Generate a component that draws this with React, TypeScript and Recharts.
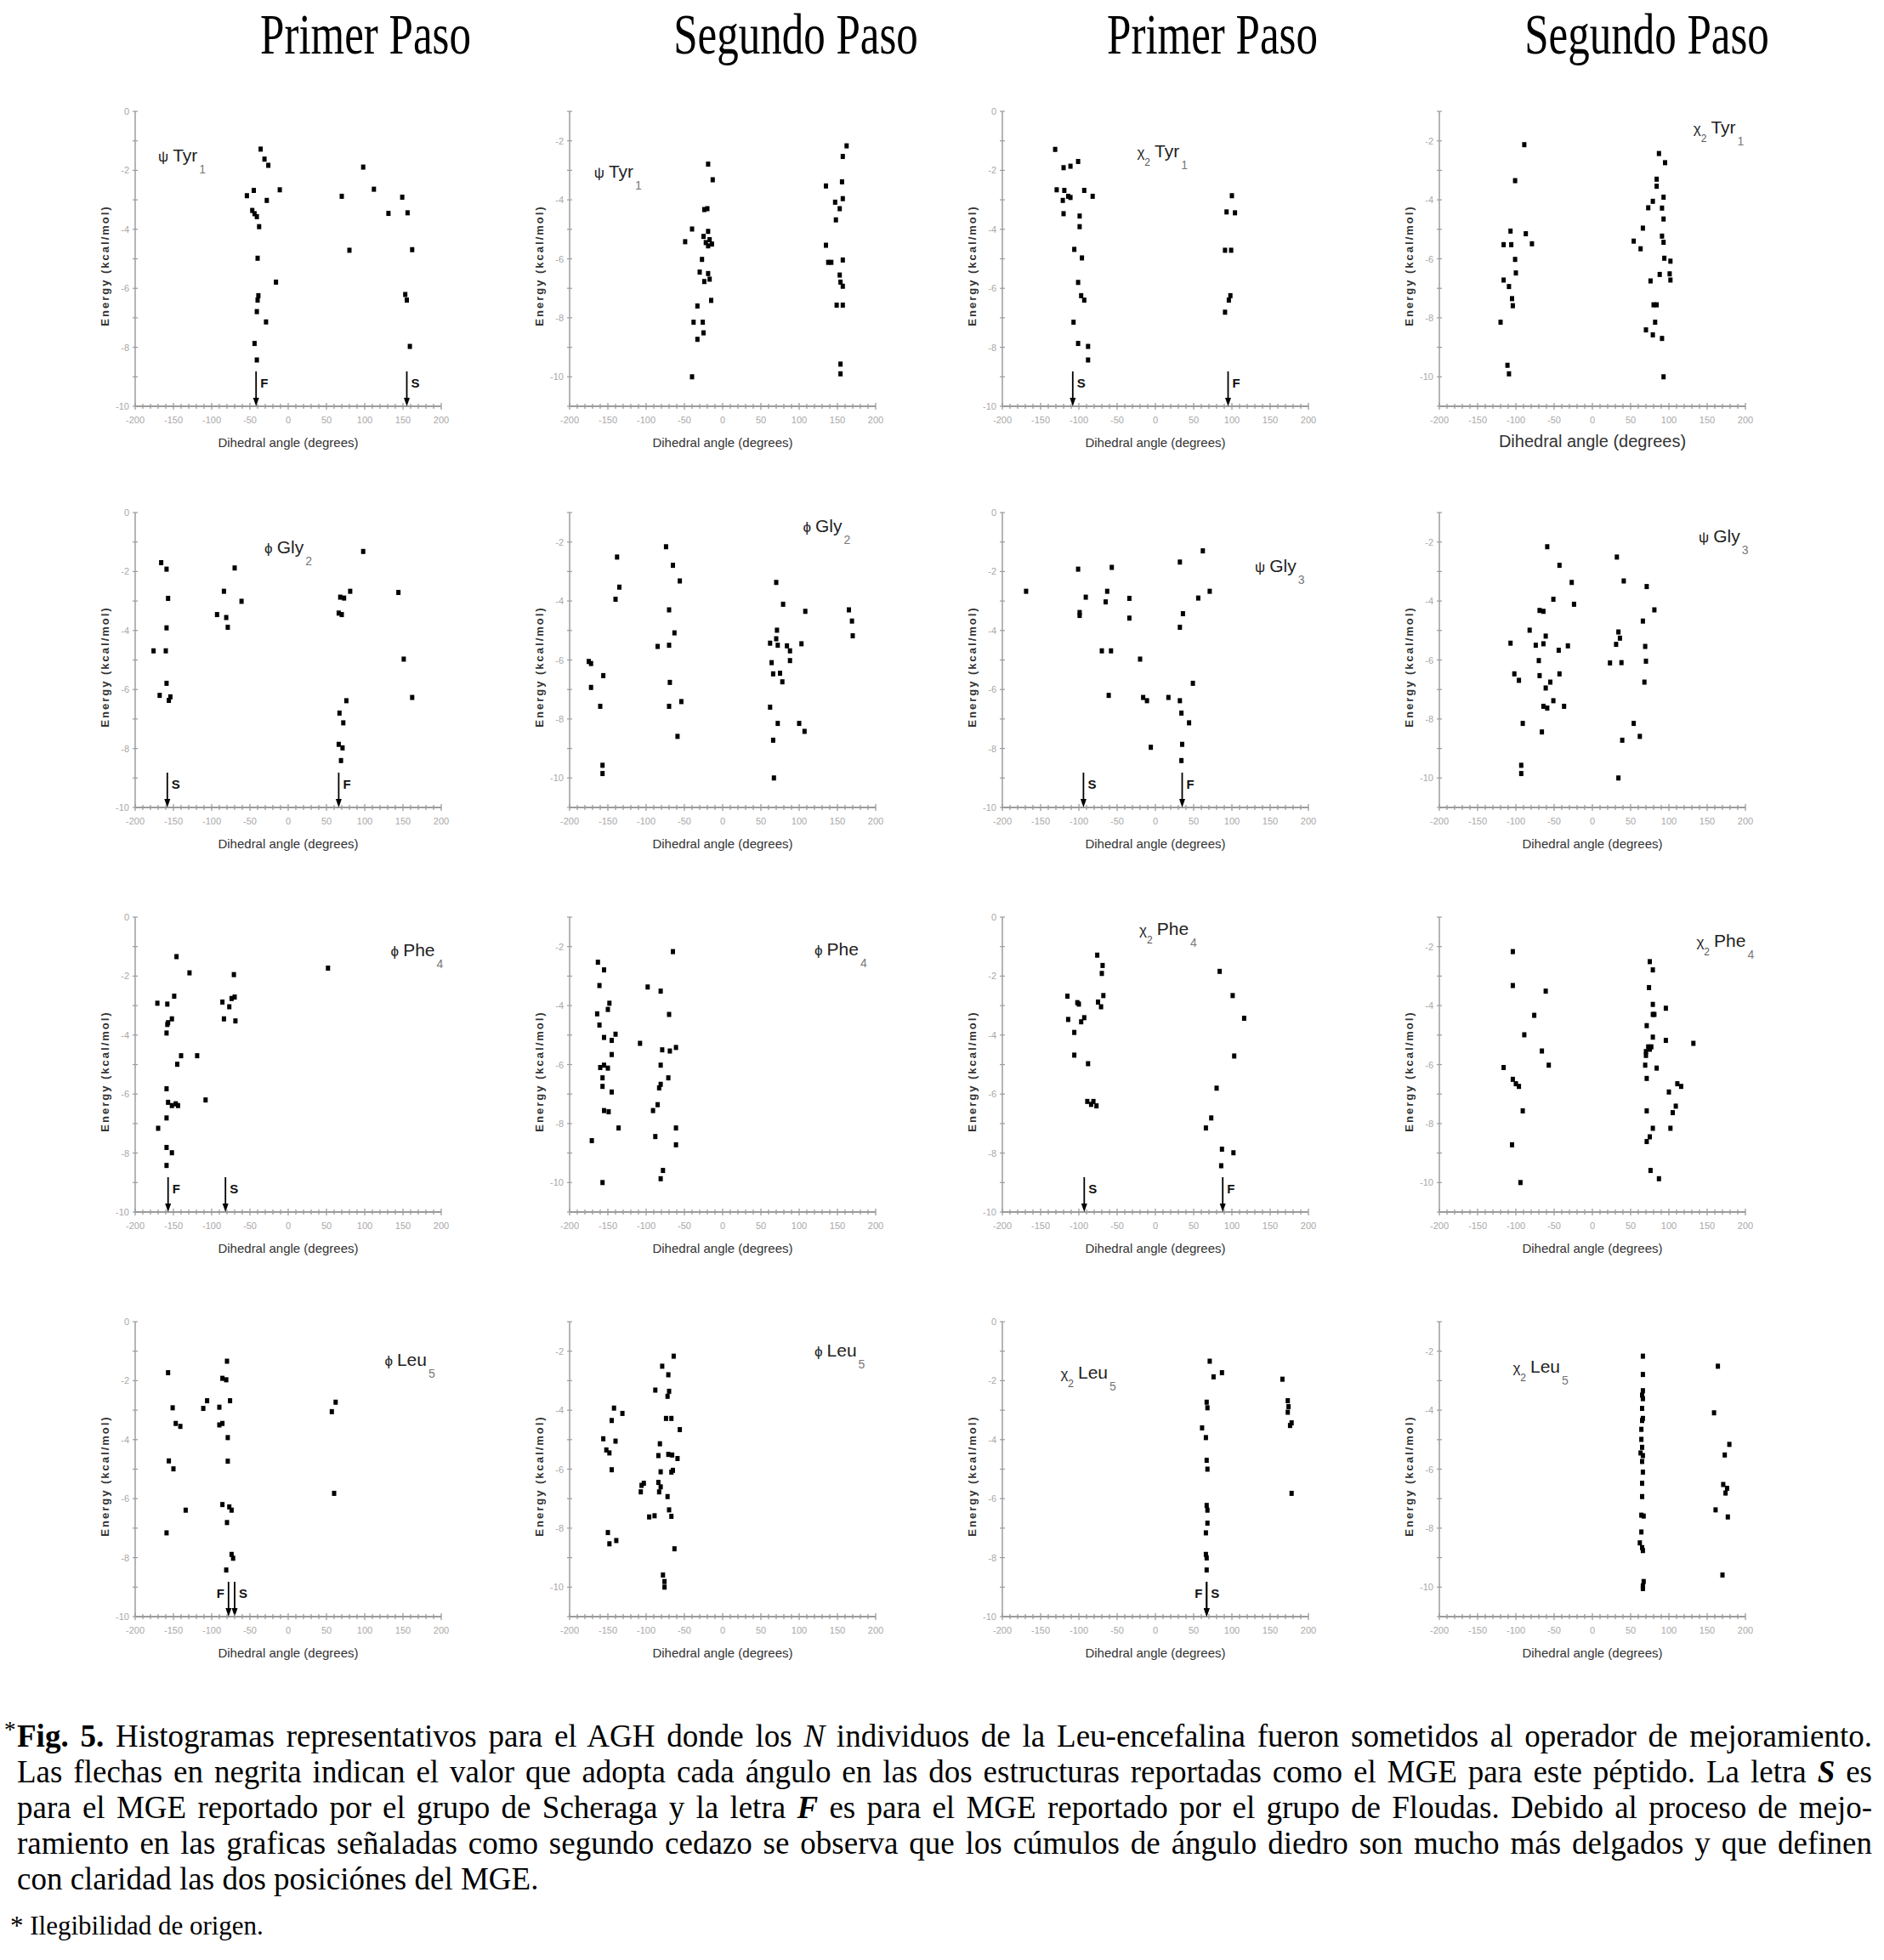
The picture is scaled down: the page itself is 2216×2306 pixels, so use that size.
import React from "react";
import { ScatterChart, Scatter, XAxis, YAxis, ReferenceDot, Label } from "recharts";

type Pt = [number, number];

// axis ticks
const xMajorTicks = [-200, -150, -100, -50, 0, 50, 100, 150, 200];
const xMinorStep = 10;
const yFirstTicks = [0, -1, -2, -3, -4, -5, -6, -7, -8, -9, -10];
const ySecondTicks = [-1, -2, -3, -4, -5, -6, -7, -8, -9, -10, -11];
const yLabelled = [0, -2, -4, -6, -8, -10];

const columnTitles = ["Primer Paso", "Segundo Paso", "Primer Paso", "Segundo Paso"];

// row 1: psi Tyr1 / chi2 Tyr1
const psiTyr1First: Pt[] = [
  [-36, -1.28], [-31, -1.62], [-26, -1.83], [-54, -2.86], [-45, -2.68], [-28, -3.02], [-11, -2.66],
  [-47, -3.36], [-44, -3.47], [-41, -3.57], [-38, -3.91], [-40, -4.98], [-16, -5.79], [-39, -6.25],
  [-40, -6.4], [-41, -6.79], [-29, -7.14], [-44, -7.87], [-41, -8.43], [98, -1.89], [70, -2.88],
  [112, -2.64], [149, -2.91], [131, -3.46], [156, -3.44], [80, -4.71], [162, -4.69], [153, -6.21],
  [155, -6.4], [159, -7.97],
];
const psiTyr1Second: Pt[] = [
  [-19, -2.79], [-13, -3.32], [-24, -4.33], [-20, -4.3], [-40, -4.99], [-49, -5.42], [-19, -5.07],
  [-25, -5.24], [-17, -5.35], [-22, -5.45], [-19, -5.56], [-14, -5.5], [-27, -6.02], [-30, -6.45],
  [-19, -6.5], [-24, -6.77], [-17, -6.69], [-15, -7.41], [-33, -7.6], [-38, -8.15], [-26, -8.15],
  [-25, -8.51], [-33, -8.73], [-40, -10.0], [162, -2.17], [157, -2.53], [135, -3.53], [156, -3.39],
  [157, -3.96], [147, -4.08], [153, -4.3], [148, -4.68], [135, -5.54], [138, -6.12], [142, -6.12],
  [157, -6.04], [153, -6.55], [154, -6.79], [157, -6.93], [149, -7.57], [157, -7.57], [154, -9.57],
  [154, -9.9],
];
const chi2Tyr1First: Pt[] = [
  [-131, -1.29], [-120, -1.91], [-111, -1.86], [-101, -1.7], [-129, -2.66], [-119, -2.68], [-114, -2.88],
  [-111, -2.92], [-121, -3.02], [-93, -2.68], [-82, -2.88], [-120, -3.47], [-99, -3.55], [-99, -3.91],
  [-106, -4.68], [-96, -4.97], [-101, -5.8], [-97, -6.25], [-93, -6.4], [-107, -7.15], [-101, -7.87],
  [-88, -7.97], [-88, -8.43], [100, -2.86], [93, -3.41], [104, -3.44], [91, -4.71], [99, -4.71],
  [98, -6.25], [96, -6.4], [91, -6.81],
];
const chi2Tyr1Second: Pt[] = [
  [-89, -2.13], [-101, -3.35], [-107, -5.06], [-87, -5.15], [-79, -5.49], [-116, -5.52], [-106, -5.52],
  [-101, -6.02], [-100, -6.48], [-116, -6.72], [-109, -6.94], [-105, -7.35], [-104, -7.59], [-120, -8.15],
  [-111, -9.61], [-109, -9.9], [87, -2.43], [95, -2.74], [84, -3.3], [84, -3.54], [93, -3.91], [79, -4.05],
  [73, -4.27], [91, -4.28], [93, -4.65], [66, -4.96], [91, -5.23], [93, -5.44], [54, -5.4], [63, -5.66],
  [94, -5.98], [102, -6.08], [88, -6.53], [101, -6.51], [102, -6.72], [76, -6.75], [80, -7.56], [84, -7.56],
  [82, -8.15], [70, -8.41], [79, -8.58], [91, -8.7], [93, -10.0],
];

// row 2: phi Gly2 / psi Gly3
const phiGly2First: Pt[] = [
  [-166, -1.7], [-159, -1.92], [-157, -2.91], [-159, -3.91], [-176, -4.69], [-160, -4.69], [-159, -5.79],
  [-168, -6.2], [-156, -6.37], [-154, -6.25], [-70, -1.88], [-84, -2.67], [-61, -3.01], [-93, -3.46],
  [-81, -3.56], [-79, -3.89], [98, -1.32], [68, -2.87], [73, -2.9], [81, -2.67], [66, -3.41], [70, -3.46],
  [144, -2.71], [151, -4.97], [162, -6.27], [76, -6.38], [67, -6.8], [72, -7.13], [66, -7.86], [71, -7.98],
  [69, -8.41],
];
const phiGly2Second: Pt[] = [
  [-138, -2.51], [-135, -3.53], [-140, -3.94], [-175, -6.05], [-172, -6.12], [-172, -6.93], [-156, -6.53],
  [-160, -7.57], [-157, -9.57], [-157, -9.85], [-74, -2.16], [-65, -2.79], [-56, -3.32], [-70, -4.3],
  [-63, -5.08], [-85, -5.54], [-70, -5.5], [-69, -6.76], [-54, -7.41], [-70, -7.57], [-59, -8.59],
  [70, -3.37], [79, -4.11], [108, -4.35], [71, -4.99], [70, -5.28], [62, -5.43], [72, -5.5], [84, -5.52],
  [88, -5.69], [103, -5.45], [88, -6.02], [64, -6.09], [66, -6.47], [75, -6.45], [78, -6.74], [62, -7.6],
  [72, -8.15], [100, -8.15], [107, -8.42], [66, -8.72], [67, -10.0], [165, -4.3], [169, -4.68], [170, -5.18],
];
const psiGly3First: Pt[] = [
  [-169, -2.67], [-101, -1.92], [-99, -3.39], [-99, -3.49], [-91, -2.87], [-57, -1.86], [-63, -2.67],
  [-65, -3.03], [-34, -2.91], [-34, -3.58], [-70, -4.69], [-58, -4.69], [-20, -4.97], [-61, -6.2],
  [-16, -6.27], [-11, -6.38], [-6, -7.96], [17, -6.27], [32, -1.68], [62, -1.3], [56, -2.9], [71, -2.67],
  [36, -3.43], [32, -3.89], [49, -5.79], [32, -6.38], [34, -6.8], [44, -7.13], [35, -7.86], [34, -8.41],
];
const psiGly3Second: Pt[] = [
  [-59, -2.16], [-43, -2.79], [-27, -3.37], [-51, -3.94], [-24, -4.11], [-69, -4.32], [-64, -4.35],
  [-82, -4.99], [-61, -5.19], [-107, -5.43], [-74, -5.5], [-64, -5.45], [-32, -5.52], [-44, -5.67],
  [-70, -6.02], [-102, -6.47], [-96, -6.69], [-69, -6.53], [-43, -6.47], [-55, -6.75], [-61, -6.95],
  [-64, -7.57], [-59, -7.63], [-51, -7.38], [-37, -7.57], [-91, -8.15], [-66, -8.44], [-93, -9.57],
  [-93, -9.85], [32, -2.51], [41, -3.32], [71, -3.51], [81, -4.3], [66, -4.68], [34, -5.05], [36, -5.26],
  [31, -5.47], [69, -5.54], [23, -6.1], [38, -6.09], [70, -6.04], [68, -6.75], [54, -8.15], [39, -8.72],
  [62, -8.59], [34, -10.0],
];

// row 3: phi Phe4 / chi2 Phe4
const phiPhe4First: Pt[] = [
  [-146, -1.34], [-129, -1.89], [-171, -2.92], [-158, -2.95], [-149, -2.68], [-152, -3.45], [-157, -3.58],
  [-158, -3.64], [-159, -3.93], [-140, -4.7], [-119, -4.7], [-145, -4.99], [-159, -5.82], [-157, -6.28],
  [-152, -6.39], [-147, -6.33], [-144, -6.39], [-108, -6.2], [-159, -6.81], [-170, -7.16], [-159, -7.81],
  [-152, -7.99], [-159, -8.42], [-71, -1.95], [-86, -2.88], [-77, -3.04], [-74, -2.76], [-70, -2.71],
  [-84, -3.45], [-69, -3.52], [52, -1.73],
];
const phiPhe4Second: Pt[] = [
  [-163, -2.53], [-155, -2.79], [-161, -3.32], [-148, -3.92], [-150, -4.13], [-164, -4.28], [-161, -4.66],
  [-140, -4.97], [-155, -5.08], [-145, -5.18], [-145, -5.66], [-160, -6.1], [-155, -6.02], [-150, -6.12],
  [-157, -6.45], [-157, -6.74], [-145, -6.93], [-155, -7.56], [-149, -7.6], [-136, -8.15], [-171, -8.58],
  [-157, -10.0], [-98, -3.37], [-108, -5.28], [-81, -3.51], [-70, -4.3], [-79, -5.5], [-69, -5.54],
  [-61, -5.42], [-81, -6.02], [-71, -6.45], [-81, -6.67], [-83, -6.79], [-85, -7.36], [-91, -7.56],
  [-88, -8.44], [-61, -8.15], [-61, -8.72], [-78, -9.59], [-81, -9.87], [-65, -2.17],
];
const chi2Phe4First: Pt[] = [
  [-76, -1.29], [-69, -1.64], [-70, -1.91], [-115, -2.68], [-102, -2.9], [-100, -2.95], [-114, -3.47],
  [-97, -3.55], [-93, -3.41], [-106, -3.91], [-106, -4.68], [-88, -4.97], [-68, -2.66], [-75, -2.88],
  [-71, -3.04], [-89, -6.25], [-81, -6.25], [-77, -6.4], [-84, -6.35], [84, -1.84], [101, -2.66],
  [116, -3.43], [103, -4.71], [80, -5.8], [73, -6.81], [66, -7.15], [87, -7.87], [102, -7.99], [86, -8.43],
];
const chi2Phe4Second: Pt[] = [
  [-104, -2.17], [-104, -3.32], [-61, -3.51], [-76, -4.33], [-89, -4.99], [-66, -5.54], [-57, -6.02],
  [-116, -6.1], [-104, -6.5], [-100, -6.65], [-96, -6.74], [-91, -7.57], [-105, -8.72], [-94, -10.0],
  [75, -2.51], [79, -2.79], [74, -3.39], [79, -3.96], [79, -4.3], [81, -4.3], [96, -4.09], [71, -4.68],
  [79, -5.07], [96, -5.18], [73, -5.4], [75, -5.48], [70, -5.56], [77, -5.4], [70, -5.69], [69, -6.02],
  [84, -6.12], [71, -6.47], [111, -6.65], [116, -6.74], [132, -5.28], [100, -6.93], [109, -7.41],
  [105, -7.63], [71, -7.57], [79, -8.16], [102, -8.16], [75, -8.45], [71, -8.61], [76, -9.59], [87, -9.87],
];

// row 4: phi Leu5 / chi2 Leu5
const phiLeu5First: Pt[] = [
  [-157, -1.73], [-151, -2.92], [-147, -3.45], [-141, -3.55], [-156, -4.72], [-150, -4.99], [-134, -6.39],
  [-159, -7.16], [-111, -2.94], [-106, -2.68], [-90, -2.9], [-80, -1.34], [-86, -1.92], [-81, -1.97],
  [-76, -2.68], [-90, -3.5], [-86, -3.45], [-79, -3.93], [-79, -4.73], [-86, -6.2], [-77, -6.28],
  [-74, -6.39], [-80, -6.81], [-74, -7.89], [-72, -8.02], [-81, -8.42], [57, -3.05], [62, -2.73], [60, -5.82],
];
const phiLeu5Second: Pt[] = [
  [-64, -2.17], [-79, -2.51], [-71, -2.8], [-88, -3.32], [-70, -3.36], [-72, -3.53], [-74, -4.28],
  [-67, -4.28], [-56, -4.66], [-82, -5.14], [-84, -5.54], [-71, -5.5], [-66, -5.52], [-59, -5.64],
  [-81, -6.09], [-67, -6.1], [-65, -6.04], [-84, -6.45], [-81, -6.6], [-83, -6.77], [-72, -6.93],
  [-106, -6.55], [-103, -6.48], [-107, -6.77], [-96, -7.62], [-89, -7.58], [-70, -7.38], [-67, -7.6],
  [-63, -8.7], [-78, -9.59], [-76, -9.81], [-76, -10.0], [-142, -3.93], [-131, -4.11], [-145, -4.35],
  [-156, -4.97], [-140, -5.05], [-152, -5.35], [-148, -5.45], [-145, -6.02], [-150, -8.15], [-148, -8.53],
  [-139, -8.42],
];
const chi2Leu5First: Pt[] = [
  [71, -1.34], [76, -1.87], [87, -1.73], [166, -1.95], [67, -2.73], [68, -2.92], [173, -2.68], [174, -2.88],
  [173, -3.07], [178, -3.43], [176, -3.52], [61, -3.6], [66, -3.93], [67, -4.7], [68, -5.0], [178, -5.82],
  [67, -6.23], [68, -6.39], [68, -6.83], [66, -7.16], [66, -7.89], [67, -8.01], [67, -8.42],
];
const chi2Leu5Second: Pt[] = [
  [66, -2.17], [66, -2.79], [66, -3.34], [65, -3.49], [66, -3.61], [65, -3.94], [66, -4.28], [65, -4.35],
  [64, -4.65], [64, -4.99], [65, -5.26], [63, -5.45], [66, -5.54], [65, -5.74], [66, -6.1], [65, -6.48],
  [65, -6.93], [64, -7.56], [67, -7.59], [64, -8.13], [62, -8.5], [65, -8.66], [66, -8.76], [67, -9.81],
  [66, -9.96], [66, -10.05], [164, -2.51], [159, -4.09], [179, -5.16], [173, -5.52], [171, -6.52],
  [176, -6.65], [174, -6.81], [161, -7.38], [177, -7.62], [170, -9.59],
];

type Arrow = { x: number; letter: string; side: "left" | "right" };
type Tag = { sym: string; symSub?: string; name: string; sub: string; x: number; y: number };
type PanelSpec = { points: Pt[]; first: boolean; tag: Tag; arrows: Arrow[] };

const panels: PanelSpec[] = [
  { points: psiTyr1First, first: true, tag: { sym: "ψ", name: "Tyr", sub: "1", x: -170, y: -1.7 },
    arrows: [{ x: -42, letter: "F", side: "right" }, { x: 155, letter: "S", side: "right" }] },
  { points: psiTyr1Second, first: false, tag: { sym: "ψ", name: "Tyr", sub: "1", x: -168, y: -3.25 }, arrows: [] },
  { points: chi2Tyr1First, first: true, tag: { sym: "χ", symSub: "2", name: "Tyr", sub: "1", x: -24, y: -1.57 },
    arrows: [{ x: -108, letter: "S", side: "right" }, { x: 95, letter: "F", side: "right" }] },
  { points: chi2Tyr1Second, first: false, tag: { sym: "χ", symSub: "2", name: "Tyr", sub: "1", x: 132, y: -1.76 }, arrows: [] },

  { points: phiGly2First, first: true, tag: { sym: "ϕ", name: "Gly", sub: "2", x: -31, y: -1.39 },
    arrows: [{ x: -158, letter: "S", side: "right" }, { x: 66, letter: "F", side: "right" }] },
  { points: phiGly2Second, first: false, tag: { sym: "ϕ", name: "Gly", sub: "2", x: 105, y: -1.66 }, arrows: [] },
  { points: psiGly3First, first: true, tag: { sym: "ψ", name: "Gly", sub: "3", x: 130, y: -2.02 },
    arrows: [{ x: -94, letter: "S", side: "right" }, { x: 35, letter: "F", side: "right" }] },
  { points: psiGly3Second, first: false, tag: { sym: "ψ", name: "Gly", sub: "3", x: 139, y: -2.0 }, arrows: [] },

  { points: phiPhe4First, first: true, tag: { sym: "ϕ", name: "Phe", sub: "4", x: 134, y: -1.34 },
    arrows: [{ x: -157, letter: "F", side: "right" }, { x: -82, letter: "S", side: "right" }] },
  { points: phiPhe4Second, first: false, tag: { sym: "ϕ", name: "Phe", sub: "4", x: 120, y: -2.29 }, arrows: [] },
  { points: chi2Phe4First, first: true, tag: { sym: "χ", symSub: "2", name: "Phe", sub: "4", x: -21, y: -0.6 },
    arrows: [{ x: -93, letter: "S", side: "right" }, { x: 88, letter: "F", side: "right" }] },
  { points: chi2Phe4Second, first: false, tag: { sym: "χ", symSub: "2", name: "Phe", sub: "4", x: 136, y: -2.0 }, arrows: [] },

  { points: phiLeu5First, first: true, tag: { sym: "ϕ", name: "Leu", sub: "5", x: 126, y: -1.49 },
    arrows: [{ x: -78, letter: "F", side: "left" }, { x: -70, letter: "S", side: "right" }] },
  { points: phiLeu5Second, first: false, tag: { sym: "ϕ", name: "Leu", sub: "5", x: 120, y: -2.19 }, arrows: [] },
  { points: chi2Leu5First, first: true, tag: { sym: "χ", symSub: "2", name: "Leu", sub: "5", x: -124, y: -1.92 },
    arrows: [{ x: 67, letter: "F", side: "left" }, { x: 67, letter: "S", side: "right" }] },
  { points: chi2Leu5Second, first: false, tag: { sym: "χ", symSub: "2", name: "Leu", sub: "5", x: -104, y: -2.72 }, arrows: [] },
];

// layout of the plot areas on the page (px)
const PLOT_LEFT = [159, 670, 1179, 1693];
const PLOT_TOP = [131, 603, 1079, 1555];
const PLOT_W = 360;
const PLOT_H = 347;
const Y_AXIS_W = 60;
const X_AXIS_H = 60;

const SANS = "'Liberation Sans', Arial, sans-serif";
const SERIF = "'Liberation Serif', 'Times New Roman', serif";
const AXIS_GREY = "#9c9c9c";

const xTicks: number[] = [];
for (let v = -200; v <= 200; v += xMinorStep) xTicks.push(v);

const XTick = (props: any) => {
  const { x, y, payload } = props;
  const major = xMajorTicks.includes(payload.value);
  return (
    <g>
      <line x1={x} x2={x} y1={y - (major ? 4 : 3)} y2={y + (major ? 4 : 3)} stroke={AXIS_GREY} strokeWidth={1.3} />
      {major && (
        <text x={x} y={y + 20} textAnchor="middle" fontSize={11} fontFamily={SANS} fill="#a8a8a8">
          {payload.value}
        </text>
      )}
    </g>
  );
};

const YTick = (props: any) => {
  const { x, y, payload } = props;
  const labelled = yLabelled.includes(payload.value);
  return (
    <g>
      <line x1={x - 3} x2={x + 3} y1={y} y2={y} stroke={AXIS_GREY} strokeWidth={1.2} />
      {labelled && (
        <text x={x - 7} y={y + 4} textAnchor="end" fontSize={11} fontFamily={SANS} fill="#a8a8a8">
          {payload.value}
        </text>
      )}
    </g>
  );
};

const YTitle = (props: any) => {
  const vb = props.viewBox || {};
  const bx = vb.x + 29;
  const cy = vb.y + vb.height / 2 + 8;
  return (
    <text x={bx} y={cy} transform={`rotate(-90 ${bx} ${cy})`} textAnchor="middle" fontSize={13}
      fontWeight="bold" letterSpacing={2} fontFamily={SANS} fill="#333">
      Energy (kcal/mol)
    </text>
  );
};

const makeXTitle = (size: number) => (props: any) => {
  const vb = props.viewBox || {};
  return (
    <text x={vb.x + vb.width / 2} y={vb.y + 48} textAnchor="middle" fontSize={size} fontFamily={SANS} fill="#333">
      Dihedral angle (degrees)
    </text>
  );
};

const Square = (props: any) => (
  <rect x={props.cx - 2.5} y={props.cy - 3} width={5} height={6} fill="#000" />
);

const makeArrow = (a: Arrow) => (props: any) => {
  const { cx, cy } = props;
  const right = a.side === "right";
  return (
    <g>
      <line x1={cx} x2={cx} y1={cy - 41} y2={cy - 8} stroke="#000" strokeWidth={1.8} />
      <polygon points={`${cx - 3.5},${cy - 10} ${cx + 3.5},${cy - 10} ${cx},${cy}`} fill="#000" />
      <text x={right ? cx + 5 : cx - 5} y={cy - 22} textAnchor={right ? "start" : "end"} fontSize={15}
        fontWeight="bold" fontFamily={SANS} fill="#111">
        {a.letter}
      </text>
    </g>
  );
};

const makeTag = (t: Tag) => (props: any) => (
  <text x={props.cx} y={props.cy} fontFamily={SANS} fill="#222">
    <tspan fontSize={17}>{t.sym}</tspan>
    {t.symSub ? <tspan fontSize={12} dy={10} fill="#555">{t.symSub}</tspan> : null}
    <tspan fontSize={21} dx={5} dy={t.symSub ? -10 : 0}>{t.name}</tspan>
    <tspan fontSize={14} dx={2} dy={14} fill="#777">{t.sub}</tspan>
  </text>
);

function Panel({ spec, index }: { spec: PanelSpec; index: number }) {
  const row = Math.floor(index / 4);
  const col = index % 4;
  const data = spec.points.map(([x, y]) => ({ x, y }));
  const yDomain = spec.first ? [-10, 0] : [-11, -1];
  const yTicks = spec.first ? yFirstTicks : ySecondTicks;
  const bigTitle = index === 3;
  return (
    <div style={{ position: "absolute", left: PLOT_LEFT[col] - Y_AXIS_W, top: PLOT_TOP[row] - 10 }}>
      <ScatterChart
        width={Y_AXIS_W + PLOT_W + 20}
        height={10 + PLOT_H + X_AXIS_H}
        margin={{ top: 10, right: 20, bottom: 0, left: 0 }}
      >
        <XAxis
          type="number"
          dataKey="x"
          domain={[-200, 200]}
          ticks={xTicks}
          interval={0}
          tick={XTick}
          tickSize={0}
          tickMargin={0}
          tickLine={false}
          axisLine={{ stroke: AXIS_GREY, strokeWidth: 2.2 }}
          height={X_AXIS_H}
          allowDataOverflow
        >
          <Label content={makeXTitle(bigTitle ? 20 : 15)} />
        </XAxis>
        <YAxis
          type="number"
          dataKey="y"
          domain={yDomain}
          ticks={yTicks}
          interval={0}
          tick={YTick}
          tickSize={0}
          tickMargin={0}
          tickLine={false}
          axisLine={{ stroke: AXIS_GREY, strokeWidth: 1.5 }}
          width={Y_AXIS_W}
          allowDataOverflow
        >
          <Label content={YTitle} />
        </YAxis>
        <Scatter data={data} shape={Square} isAnimationActive={false} />
        {spec.arrows.map((a, i) => (
          <ReferenceDot key={`arrow-${i}`} x={a.x} y={-10} r={0} shape={makeArrow(a)} ifOverflow="visible" />
        ))}
        <ReferenceDot x={spec.tag.x} y={spec.tag.y} r={0} shape={makeTag(spec.tag)} ifOverflow="visible" />
      </ScatterChart>
    </div>
  );
}

const titleCenters = [430, 936, 1426, 1937];

const captionLines = [
  "Las flechas en negrita indican el valor que adopta cada ángulo en las dos estructuras reportadas como el MGE para este péptido. La letra ",
  "para el MGE reportado por el grupo de Scheraga y la letra ",
  "ramiento en las graficas señaladas como segundo cedazo se observa que los cúmulos de ángulo diedro son mucho más delgados y que definen",
  "con claridad las dos posiciónes del MGE.",
];

export default function App() {
  const lineStyle: React.CSSProperties = {
    position: "absolute",
    left: 20,
    width: 2182,
    fontFamily: SERIF,
    fontSize: 37,
    lineHeight: "42px",
    whiteSpace: "nowrap",
    textAlign: "justify",
    textAlignLast: "justify",
    color: "#000",
  };
  return (
    <div style={{ position: "absolute", left: 0, top: 0, width: 2216, height: 2306, background: "#fff", overflow: "hidden" }}>
      <svg width={2216} height={110} style={{ position: "absolute", left: 0, top: 0 }}>
        {columnTitles.map((t, i) => (
          <text
            key={i}
            x={titleCenters[i]}
            y={63}
            textAnchor="middle"
            fontFamily={SERIF}
            fontSize={68}
            fill="#000"
            transform={`translate(${titleCenters[i]} 0) scale(0.75 1) translate(${-titleCenters[i]} 0)`}
          >
            {t}
          </text>
        ))}
      </svg>

      {panels.map((p, i) => (
        <Panel key={i} spec={p} index={i} />
      ))}

      <div style={{ ...lineStyle, top: 2022 }}>
        <span style={{ position: "absolute", left: -15, top: -8, fontSize: 27 }}>*</span>
        <b>Fig. 5.</b> Histogramas representativos para el AGH donde los <i>N</i> individuos de la Leu-encefalina fueron sometidos al operador de mejoramiento.
      </div>
      <div style={{ ...lineStyle, top: 2064 }}>
        {captionLines[0]}<b><i>S</i></b> es
      </div>
      <div style={{ ...lineStyle, top: 2106 }}>
        {captionLines[1]}<b><i>F</i></b> es para el MGE reportado por el grupo de Floudas. Debido al proceso de mejo-
      </div>
      <div style={{ ...lineStyle, top: 2148 }}>{captionLines[2]}</div>
      <div style={{ ...lineStyle, top: 2190, textAlignLast: "left" }}>{captionLines[3]}</div>
      <div style={{ position: "absolute", left: 12, top: 2248, fontFamily: SERIF, fontSize: 31, lineHeight: "36px" }}>
        * Ilegibilidad de origen.
      </div>
    </div>
  );
}
